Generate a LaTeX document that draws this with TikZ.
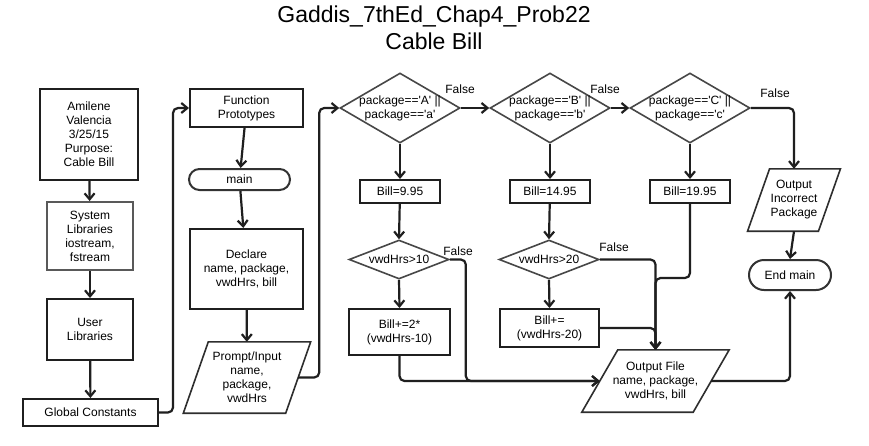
\documentclass[tikz,border=0pt]{standalone}
\usepackage{fontspec}
\setmainfont{Liberation Sans}[Ligatures=TeXOff]
\usetikzlibrary{shapes.geometric,arrows.meta,calc}
\newcommand\drawpara[2]{\draw[ioline] ([xshift=-#2pt]#1.south west) -- ([xshift=#2pt]#1.north west) -- ([xshift=#2pt]#1.north east) -- ([xshift=-#2pt]#1.south east) -- cycle;}
\begin{document}
\begin{tikzpicture}[x=1pt,y=-1pt,
  every node/.style={font=\fontsize{12}{14}\selectfont, align=center, inner sep=0pt},
  box/.style={draw=black!88, line width=2pt, rectangle},
  gbox/.style={draw=black!65, line width=2pt, rectangle},
  term/.style={draw=black!80, line width=2pt, rectangle},
  dia/.style={draw=black!72, line width=1.6pt, diamond, minimum width=120pt, minimum height=70pt},
  sdia/.style={draw=black!72, line width=1.6pt, diamond, minimum width=100pt, minimum height=39pt},
  io/.style={rectangle},
  ioline/.style={draw=black!82, line width=1.6pt, line join=miter},
  arr/.style={draw=black!88, line width=2.2pt, rounded corners=5pt, -{Straight Barb[length=6pt,width=10pt]}},
  lbl/.style={font=\fontsize{12}{14}\selectfont}
]
\fill[white] (0,0) rectangle (869,445);
\useasboundingbox (0,0) rectangle (869,445);

\node[font=\fontsize{23}{27}\selectfont] (title) at (434,28) {Gaddis\_7thEd\_Chap4\_Prob22\\Cable Bill};

% column 1
\node[box, minimum width=98pt, minimum height=91pt] (amil) at (89,134.5) {Amilene\\Valencia\\3/25/15\\Purpose:\\Cable Bill};
\node[gbox, minimum width=86pt, minimum height=68pt] (sys) at (90,236) {System\\Libraries\\iostream,\\fstream};
\node[box, minimum width=86pt, minimum height=61pt] (user) at (90,329.5) {User\\Libraries};
\node[box, minimum width=135pt, minimum height=27pt] (glob) at (90.5,412.5) {Global Constants};

% column 2
\node[box, minimum width=113pt, minimum height=38pt] (fp) at (246.5,108) {Function\\Prototypes};
\node[term, rounded corners=10.5pt, minimum width=101pt, minimum height=21pt] (main) at (239.5,179.5) {main};
\node[box, minimum width=113pt, minimum height=80pt] (decl) at (246.5,269) {Declare\\name, package,\\vwdHrs, bill};
\node[io, minimum width=102pt, minimum height=71pt] (prompt) at (247,377.5) {Prompt/Input\\name,\\package,\\vwdHrs};
\drawpara{prompt}{12.5}

% decisions
\node[dia, label={center:{package=='A' ||\\package=='a'}}] (d1) at (400,108) {};
\node[dia, label={center:{package=='B' ||\\package=='b'}}] (d2) at (550,108) {};
\node[dia, label={center:{package=='C' ||\\package=='c'}}] (d3) at (690,108) {};

\node[box, minimum width=80pt, minimum height=23pt] (b1) at (400,191.5) {Bill=9.95};
\node[box, minimum width=80pt, minimum height=23pt] (b2) at (550,191.5) {Bill=14.95};
\node[box, minimum width=80pt, minimum height=23pt] (b5) at (690,191.5) {Bill=19.95};

\node[sdia, label={center:{vwdHrs>10}}] (v10) at (399,259.5) {};
\node[sdia, label={center:{vwdHrs>20}}] (v20) at (549,259.5) {};

\node[box, minimum width=101pt, minimum height=46pt] (b3) at (399.5,332) {Bill+=2*\\(vwdHrs-10)};
\node[box, minimum width=99pt, minimum height=38pt] (b4) at (549.5,328) {Bill+=\\(vwdHrs-20)};

\node[io, minimum width=111pt, minimum height=62pt] (of) at (655.5,381) {Output File\\name, package,\\vwdHrs, bill};
\drawpara{of}{18}
\node[io, minimum width=70.5pt, minimum height=62pt] (oip) at (794,200) {Output\\Incorrect\\Package};
\drawpara{oip}{11}
\node[term, rounded corners=15pt, minimum width=82pt, minimum height=30pt] (endm) at (790,275) {End main};

% False labels
\node[lbl] (f1) at (460,89) {False};
\node[lbl] (f2) at (605,89) {False};
\node[lbl] (f3) at (775,93) {False};
\node[lbl] (f4) at (458,251) {False};
\node[lbl] (f5) at (614,247) {False};

% connectors column 1
\draw[arr] (amil) -- (sys);
\draw[arr] (sys) -- (user);
\draw[arr] (user) -- (glob);
\draw[arr] (glob.east) -- ++(14,0) |- (fp.west);

% column 2
\draw[arr] (fp) -- (main);
\draw[arr] (main) -- (decl);
\draw[arr] (decl) -- (prompt);
\draw[arr] (prompt.east) -- ++(21,0) |- (d1.west);

% decisions
\draw[arr] (d1.east) -- (d2.west);
\draw[arr] (d2.east) -- (d3.west);
\draw[arr] (d3.east) -| (oip.north);
\draw[arr] (d1.south) -- (b1.north);
\draw[arr] (d2.south) -- (b2.north);
\draw[arr] (d3.south) -- (b5.north);
\draw[arr] (b1) -- (v10.north);
\draw[arr] (b2) -- (v20.north);
\draw[arr] (v10.south) -- (b3.north);
\draw[arr] (v20.south) -- (b4.north);

% merge into output file
\draw[arr] (b3.south) |- (of.west);
\draw[arr] (v10.east) -- ++(16,0) |- (of.west);
\draw[arr] (v20.east) -| (of.north);
\draw[arr] (b4.east) -| (of.north);
\draw[arr] (b5.south) -- ++(0,74) -| (of.north);

% end
\draw[arr] (oip.south) -- (endm.north);
\draw[arr] (of.east) -| (endm.south);
\end{tikzpicture}
\end{document}
